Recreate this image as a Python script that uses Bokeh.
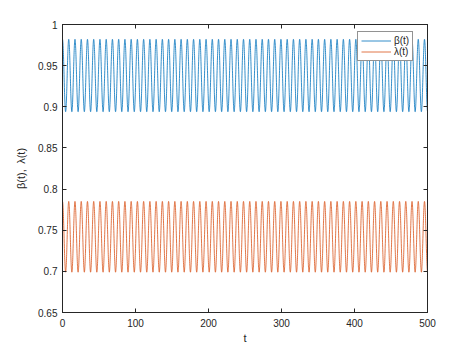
import numpy as np
from bokeh.plotting import figure
from bokeh.models import LinearAxis, FixedTicker, Range1d, Legend, LegendItem, ColumnDataSource
from bokeh.embed import file_html
from bokeh.resources import INLINE

# ---- data ----
t_span = [0, 500]
t_step = 0.1
period = [8.55]                 # oscillation period (units of t)
beta_band = [0.894, 0.982]      # min / max of beta(t)
lambda_band = [0.699, 0.785]    # min / max of lambda(t)
x_ticks = [0, 100, 200, 300, 400, 500]
x_tick_labels = ["0", "100", "200", "300", "400", "500"]
y_ticks = [0.65, 0.7, 0.75, 0.8, 0.85, 0.9, 0.95, 1.0]
y_tick_labels = ["0.65", "0.7", "0.75", "0.8", "0.85", "0.9", "0.95", "1"]
series_names = ["\u03b2(t)", "\u03bb(t)"]
series_colors = ["#0072BD", "#D95319"]

t = np.arange(t_span[0], t_span[1] + t_step / 2, t_step)
def band_wave(band):
    mid = (band[0] + band[1]) / 2
    amp = (band[1] - band[0]) / 2
    return mid + amp * np.cos(2 * np.pi * t / period[0])

beta = band_wave(beta_band)
lam = band_wave(lambda_band)
src = ColumnDataSource(dict(t=t, beta=beta, lam=lam))

AX = "#262626"
FONT = "Liberation Sans"

p = figure(width=464, height=346, output_backend="svg", toolbar_location=None,
           x_range=Range1d(0, 500), y_range=Range1d(0.65, 1.0),
           min_border_left=62, min_border_right=37, min_border_top=24, min_border_bottom=32)
p.background_fill_color = "white"
p.border_fill_color = "white"
p.grid.visible = False
p.outline_line_color = AX
p.outline_line_width = 1

r1 = p.line("t", "beta", source=src, line_color=series_colors[0], line_width=0.8)
r2 = p.line("t", "lam", source=src, line_color=series_colors[1], line_width=0.8)

def style(ax):
    ax.axis_line_color = AX
    ax.major_tick_line_color = AX
    ax.major_tick_in = 4
    ax.major_tick_out = 0
    ax.minor_tick_line_color = None
    ax.major_label_text_font = FONT
    ax.major_label_text_font_size = "10px"
    ax.major_label_text_color = AX
    ax.axis_label_text_font = FONT
    ax.axis_label_text_font_style = "normal"
    ax.axis_label_text_color = AX
    ax.axis_label_text_font_size = "11px"

p.xaxis.ticker = FixedTicker(ticks=x_ticks)
p.xaxis.major_label_overrides = dict(zip(x_ticks, x_tick_labels))
p.yaxis.ticker = FixedTicker(ticks=y_ticks)
p.yaxis.major_label_overrides = {float(k): v for k, v in zip(y_ticks, y_tick_labels)}
style(p.xaxis[0]); style(p.yaxis[0])
p.xaxis.axis_label = "t"
p.yaxis.axis_label = "\u03b2(t),\u2002\u03bb(t)"
p.xaxis.major_label_standoff = 6
p.yaxis.major_label_standoff = 5
p.xaxis.axis_label_standoff = 2
p.yaxis.axis_label_standoff = 8

top = LinearAxis(ticker=FixedTicker(ticks=x_ticks),
                 major_label_overrides={k: "" for k in x_ticks})
right = LinearAxis(ticker=FixedTicker(ticks=y_ticks),
                   major_label_overrides={float(k): "" for k in y_ticks})
style(top); style(right)
top.major_label_standoff = 0
right.major_label_standoff = 0
p.add_layout(top, "above")
p.add_layout(right, "right")

legend = Legend(items=[LegendItem(label=series_names[0], renderers=[r1]),
                       LegendItem(label=series_names[1], renderers=[r2])],
                location=(295, 251))
legend.label_text_font = FONT
legend.label_text_font_size = "10px"
legend.label_text_color = AX
legend.glyph_width = 30
legend.glyph_height = 11
legend.label_height = 11
legend.label_width = 14
legend.label_standoff = 3
legend.spacing = 0
legend.padding = 3
legend.margin = 0
legend.border_line_color = AX
legend.border_line_width = 1
legend.background_fill_color = "white"
legend.background_fill_alpha = 1
p.add_layout(legend, "center")

open("out.html", "w").write(file_html(p, INLINE))
